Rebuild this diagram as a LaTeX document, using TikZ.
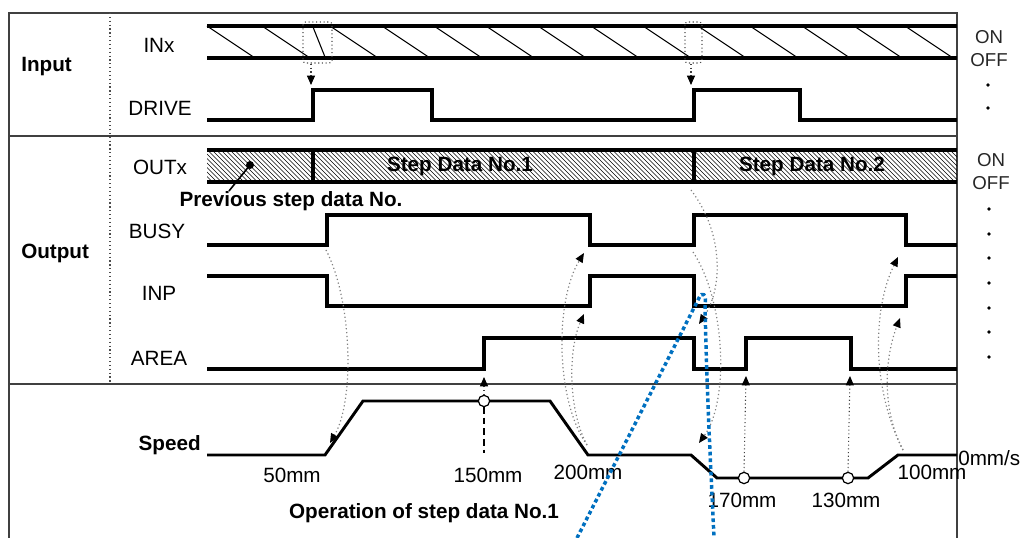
\documentclass[tikz,border=0pt]{standalone}
\usepackage{fontspec}
\setmainfont{Liberation Sans}
\usetikzlibrary{arrows.meta}
\definecolor{bluedot}{RGB}{0,112,192}
\begin{document}
\begin{tikzpicture}[x=0.75pt,y=-0.75pt,
  frame/.style={line width=1.1pt,draw=black!75},
  sepline/.style={line width=0.9pt,draw=black!70,dotted},
  sig/.style={line width=3pt,line join=miter,line cap=butt},
  diag/.style={line width=0.8pt},
  hatchline/.style={line width=0.5pt},
  dbox/.style={line width=0.8pt,draw=black!70,dotted,rounded corners=2pt},
  darr/.style={line width=0.8pt,draw=black!75,dotted,-{Triangle[length=7pt,width=6pt,color=black]}},
  garr/.style={line width=0.9pt,draw=black!50,dotted,-{Triangle[length=7pt,width=6pt,color=black]}},
  speedline/.style={line width=2.2pt,line join=miter},
  lab/.style={font=\fontsize{15.5}{18}\selectfont,inner sep=0pt},
  blab/.style={font=\fontsize{15.5}{18}\selectfont\bfseries,inner sep=0pt},
  nlab/.style={font=\fontsize{15.5}{18}\selectfont,inner sep=0pt},
  sidelab/.style={font=\fontsize{14}{16}\selectfont,inner sep=0pt,text=black!85},
  sidedot/.style={circle,fill=black,inner sep=0pt,minimum size=2.8pt},
  posmark/.style={circle,draw=black,fill=white,line width=0.9pt,inner sep=0pt,minimum size=8.5pt},
  bluepath/.style={draw=bluedot,line width=2.6pt,dash pattern=on 2.8pt off 2.2pt}]
\useasboundingbox (0,0) rectangle (1033,538);

% frame
\draw[frame] (9,538) -- (9,13) -- (957,13) -- (957,538);
\draw[frame] (9,136) -- (957,136);
\draw[frame] (9,384) -- (957,384);
\draw[sepline] (110,13) -- (110,384);

% section labels
\node[blab,anchor=west] (input) at (21,67) {Input};
\node[blab,anchor=west] (output) at (21,253) {Output};
\node[blab,anchor=east] (speed) at (201,445) {Speed};

% signal labels
\node[lab] (lINx) at (159,45) {INx};
\node[lab] (lDRIVE) at (160,108) {DRIVE};
\node[lab] (lOUTx) at (160,167) {OUTx};
\node[lab] (lBUSY) at (157,231) {BUSY};
\node[lab] (lINP) at (159,293) {INP};
\node[lab] (lAREA) at (159,358) {AREA};

% INx
\foreach \t in {207,262,330,382,434,486,538,591,643,698,750,802,854,905}
  \draw[diag] (\t,26) -- ({min(\t+48,956)},58);
\draw[diag] (313,27) -- (325,57);
\draw[sig] (207,26) -- (957,26);
\draw[sig] (207,58) -- (957,58);
\draw[dbox] (303,22) rectangle (332,63);
\draw[dbox] (685,22) rectangle (702,63);
\coordinate (b1) at (311,64);
\coordinate (d1) at (311,85);
\coordinate (b2) at (691,64);
\coordinate (d2) at (691,85);
\draw[darr] (b1) -- (d1);
\draw[darr] (b2) -- (d2);

% DRIVE
\draw[sig] (207,120) -- (313,120) -- (313,90) -- (432,90) -- (432,120) -- (694,120) -- (694,90) -- (800,90) -- (800,120) -- (957,120);

% OUTx
\begin{scope}
  \clip (207,150) rectangle (957,182);
  \foreach \x in {176,180.5,...,960}
    \draw[hatchline] (\x,150) -- (\x+32,182);
\end{scope}
\draw[sig] (207,150) -- (957,150);
\draw[sig] (207,182) -- (957,182);
\draw[line width=2.4pt] (313,150) -- (313,182);
\draw[line width=2.4pt] (694,150) -- (694,182);
\node[blab] (sd1) at (460,166) {Step Data No.1};
\node[blab] (sd2) at (812,166) {Step Data No.2};
\node[circle,fill=black,inner sep=0pt,minimum size=6pt] (pdot) at (250,165) {};
\coordinate (pend) at (229,191);
\draw[line width=1.2pt] (pdot.center) -- (pend);
\node[blab] (prev) at (291,201) {Previous step data No.};

% BUSY
\draw[sig] (207,245) -- (327,245) -- (327,215) -- (590,215) -- (590,245) -- (694,245) -- (694,215) -- (906,215) -- (906,245) -- (957,245);
% INP
\draw[sig] (207,276) -- (327,276) -- (327,306) -- (590,306) -- (590,276) -- (694,276) -- (694,306) -- (906,306) -- (906,276) -- (957,276);
% AREA
\draw[sig] (207,369) -- (484,369) -- (484,338) -- (694,338) -- (694,369) -- (746,369) -- (746,338) -- (851,338) -- (851,369) -- (957,369);

% speed profile
\draw[speedline] (207,455) -- (325,455) -- (363,401) -- (550,401) -- (588,455) -- (691,455) -- (717,478) -- (868,478) -- (898,455) -- (957,455);
\draw[line width=0.9pt,dash pattern=on 5pt off 3pt] (484,407) -- (484,453);
\node[posmark] (m150) at (484,401) {};
\node[posmark] (m170) at (744,478) {};
\node[posmark] (m130) at (848,478) {};
\coordinate (a150) at (484,377);
\coordinate (a170) at (746,376);
\coordinate (a130) at (850,376);
\draw[darr] (m150.north) -- (a150);
\draw[darr] (m170.north) -- (a170);
\draw[darr] (m130.north) -- (a130);

\node[nlab] (t50) at (292,475) {50mm};
\node[nlab] (t150) at (488,475) {150mm};
\node[nlab] (t200) at (588,472) {200mm};
\node[nlab] (t170) at (742,500) {170mm};
\node[nlab] (t130) at (846,500) {130mm};
\node[nlab] (t100) at (932,472) {100mm};
\node[nlab,anchor=west] (t0) at (958,458) {0mm/s};
\node[blab] (oper) at (424,513) {Operation of step data No.1};

% right side labels
\node[sidelab] (on1) at (989,37) {ON};
\node[sidelab] (off1) at (989,60) {OFF};
\foreach \y in {85,108} \node[sidedot] at (988,\y) {};
\node[sidelab] (on2) at (991,160) {ON};
\node[sidelab] (off2) at (991,183) {OFF};
\foreach \y in {209,234,258,283,308,332,357} \node[sidedot] at (989,\y) {};

% grey causal arrows
\coordinate (g1s) at (326,250); \coordinate (g1e) at (330,443);
\draw[garr] (g1s) .. controls (352,300) and (355,400) .. (g1e);
\coordinate (g2s) at (587,445); \coordinate (g2e) at (584,253);
\draw[garr] (g2s) .. controls (555,400) and (555,300) .. (g2e);
\coordinate (g3e) at (584,314);
\draw[garr] (g2s) .. controls (568,410) and (568,350) .. (g3e);
\coordinate (g4s) at (691,190); \coordinate (g4e) at (699,324);
\draw[garr] (g4s) .. controls (725,235) and (722,290) .. (g4e);
\coordinate (g5s) at (693,252); \coordinate (g5e) at (699,443);
\draw[garr] (g5s) .. controls (725,300) and (730,400) .. (g5e);
\coordinate (g6s) at (903,450); \coordinate (g6e) at (898,257);
\draw[garr] (g6s) .. controls (872,390) and (872,310) .. (g6e);
\coordinate (g7e) at (900,318);
\draw[garr] (g6s) .. controls (882,410) and (884,360) .. (g7e);

% blue dotted marker
\coordinate (bl1) at (577,538);
\coordinate (bl2) at (699,298);
\coordinate (bl3) at (705,305);
\coordinate (bl4) at (714,538);
\draw[bluepath] (bl1) -- (bl2) .. controls (702,291) and (707,294) .. (bl3) .. controls (707,400) and (711,470) .. (bl4);
\end{tikzpicture}
\end{document}
